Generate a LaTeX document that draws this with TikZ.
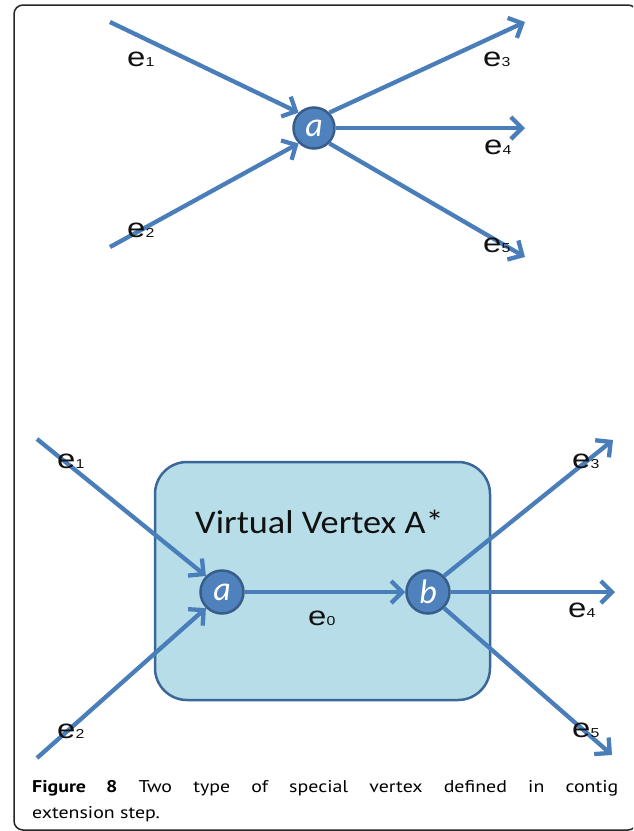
\documentclass[tikz,border=0pt]{standalone}
\usepackage{fontspec}
\setmainfont{Liberation Sans}
\newfontfamily\calfont{Carlito}
\newfontfamily\capfont{PT Sans}
\usetikzlibrary{arrows.meta}
\definecolor{edgeblue}{HTML}{4A7EBB}
\definecolor{nodefill}{HTML}{4F81BD}
\definecolor{nodeline}{HTML}{385D8A}
\definecolor{boxfill}{HTML}{B7DEE8}
\definecolor{boxline}{HTML}{3B6898}
\definecolor{txt}{HTML}{111111}
\newcommand{\elab}[1]{\scalebox{1.22}[1]{e{\fontsize{13}{13}\selectfont #1}}}
\begin{document}
\begin{tikzpicture}[x=1pt,y=-1pt,
  edge/.style={draw=edgeblue, line width=4.3pt, -{Straight Barb[length=11pt,width=22pt]}},
  vertex/.style={circle, fill=nodefill, draw=nodeline, line width=2.5pt, minimum size=41pt, inner sep=0pt, text=white, font=\calfont\itshape\fontsize{34}{34}\selectfont},
  elabel/.style={anchor=base west, inner sep=0pt, text=txt, font=\fontsize{27}{27}\selectfont},
  vbox/.style={rectangle, rounded corners=32pt, fill=boxfill, draw=boxline, line width=2.5pt, inner sep=0pt},
  frame/.style={draw=black!85, line width=1.5pt, rounded corners=9pt},
  captext/.style={anchor=base west, inner sep=0pt, text=black, font=\capfont\fontsize{17}{17}\selectfont}
]
\useasboundingbox (0,0) rectangle (633,831);
\clip (0,0) rectangle (633,831);
\fill[white] (0,0) rectangle (633,831);
\draw[frame] (14,5) rectangle (637,830);

% ---------- top diagram ----------
\node[vertex] (a1) at (314,128) {a};
\coordinate (t1) at (110,22);
\coordinate (t2) at (110,247);
\coordinate (t3) at (525,22);
\coordinate (t4) at (525,128);
\coordinate (t5) at (525,257);
\draw[edge] (t1) -- (a1.north west);
\draw[edge] (t2) -- (a1.south west);
\draw[edge] (a1.north east) -- (t3);
\draw[edge] (a1.east) -- (t4);
\draw[edge] (a1.south east) -- (t5);
\node[elabel] (te1) at (127,66) {\elab{1}};
\node[elabel] (te2) at (127,237) {\elab{2}};
\node[elabel] (te3) at (483,66) {\elab{3}};
\node[elabel] (te4) at (484,154) {\elab{4}};
\node[elabel] (te5) at (483,252) {\elab{5}};

% ---------- bottom diagram ----------
\node[vbox, minimum width=335pt, minimum height=238pt] (vv) at (322.5,581) {};
\node[anchor=base west, inner sep=0pt, text=txt, font=\calfont\fontsize{33}{33}\selectfont] (vvt) at (195,533) {\scalebox{1.1}[1]{Virtual Vertex A*}};
\node[vertex, minimum size=43pt] (a2) at (222,592) {a};
\node[vertex, minimum size=43pt] (b2) at (428,592) {b};
\coordinate (u1) at (37,439);
\coordinate (u2) at (37,758);
\coordinate (u3) at (613,440);
\coordinate (u4) at (615,592);
\coordinate (u5) at (612,755);
\draw[edge] (u1) -- (a2.north west);
\draw[edge] (u2) -- (a2.south west);
\draw[edge] (a2.east) -- (b2.west);
\draw[edge] (b2.north east) -- (u3);
\draw[edge] (b2.east) -- (u4);
\draw[edge] (b2.south east) -- (u5);
\node[elabel] (be1) at (57,468) {\elab{1}};
\node[elabel] (be2) at (57,738) {\elab{2}};
\node[elabel] (be0) at (308,625) {\elab{0}};
\node[elabel] (be3) at (572,468) {\elab{3}};
\node[elabel] (be4) at (568,617) {\elab{4}};
\node[elabel] (be5) at (572,737) {\elab{5}};

% ---------- caption ----------
\node[captext] (cap1) at (32,792) {\scalebox{1.17}[1]{\makebox[501pt][s]{\textbf{Figure 8} Two type of special vertex defined in contig}}};
\node[captext] (cap2) at (32,818) {\scalebox{1.17}[1]{extension step.}};
\end{tikzpicture}
\end{document}
